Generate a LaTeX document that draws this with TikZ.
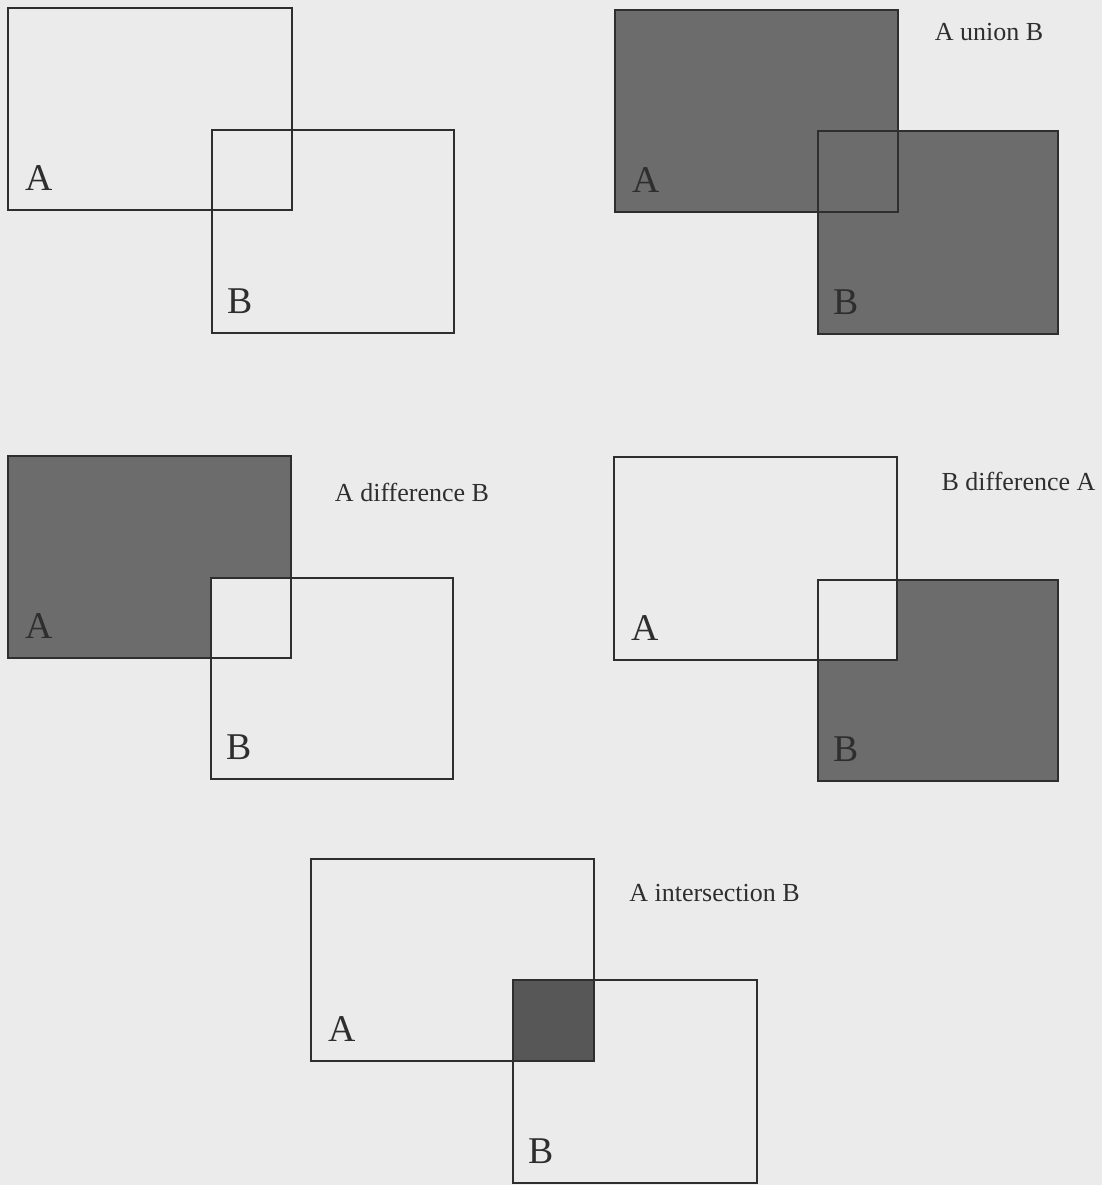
\documentclass[tikz,border=0pt]{standalone}
\usepackage{fontspec}
\setmainfont{Liberation Serif}
\usepackage{tikz}
\usetikzlibrary{positioning}

\definecolor{paper}{HTML}{EBEBEB}
\definecolor{setfill}{HTML}{6C6C6C}
\definecolor{cutfill}{HTML}{575757}
\definecolor{edge}{HTML}{2E2E2E}

\tikzset{
  setbox/.style={draw=edge, line width=1.2pt},
  shaded/.style={setbox, fill=setfill},
  setname/.style={font=\fontsize{21.5}{24}\selectfont, text=edge, inner sep=0pt},
  opname/.style={font=\fontsize{14.8}{17}\selectfont, text=edge, inner sep=0pt},
}

\begin{document}
\begin{tikzpicture}[x=0.02cm, y=-0.02cm]
    \fill [paper] (0,0) rectangle (1102,1185);
    \useasboundingbox (0,0) rectangle (1102,1185);

    % plain A and B
    \draw [setbox] (8,8) rectangle (292,210);
    \draw [setbox] (212,130) rectangle (454,333);
    \node [setname] (a1) at (39.5,178) {A};
    \node [setname] (b1) at (240,301.5) {B};

    % union
    \fill [setfill] (615,10) rectangle (898,212);
    \fill [setfill] (818,131) rectangle (1058,334);
    \draw [setbox] (615,10) rectangle (898,212);
    \draw [setbox] (818,131) rectangle (1058,334);
    \node [setname] (a2) at (646.5,180) {A};
    \node [setname] (b2) at (846,302.5) {B};
    \node [opname] (union) at (989,32) {A union B};

    % A minus B
    \draw [shaded] (8,456) rectangle (291,658);
    \draw [setbox] (211,578) rectangle (453,779);
    \fill [paper] (211,578) rectangle (291,658);
    \draw [setbox] (211,578) rectangle (291,658);
    \node [setname] (a3) at (39.5,626) {A};
    \node [setname] (b3) at (239,747.5) {B};
    \node [opname] (adiff) at (412,492) {A difference B};

    % B minus A
    \draw [shaded] (818,580) rectangle (1058,781);
    \fill [paper] (818,580) rectangle (897,660);
    \draw [setbox] (614,457) rectangle (897,660);
    \draw [setbox] (818,580) rectangle (1058,781);
    \node [setname] (a4) at (645.5,628) {A};
    \node [setname] (b4) at (846,749.5) {B};
    \node [opname] (bdiff) at (1018.5,481) {B difference A};

    % intersection
    \fill [cutfill] (513,980) rectangle (594,1061);
    \draw [setbox] (311,859) rectangle (594,1061);
    \draw [setbox] (513,980) rectangle (757,1183);
    \node [setname] (a5) at (342.5,1029) {A};
    \node [setname] (b5) at (541,1151.5) {B};
    \node [opname] (inter) at (714.5,893) {A intersection B};
\end{tikzpicture}
\end{document}
